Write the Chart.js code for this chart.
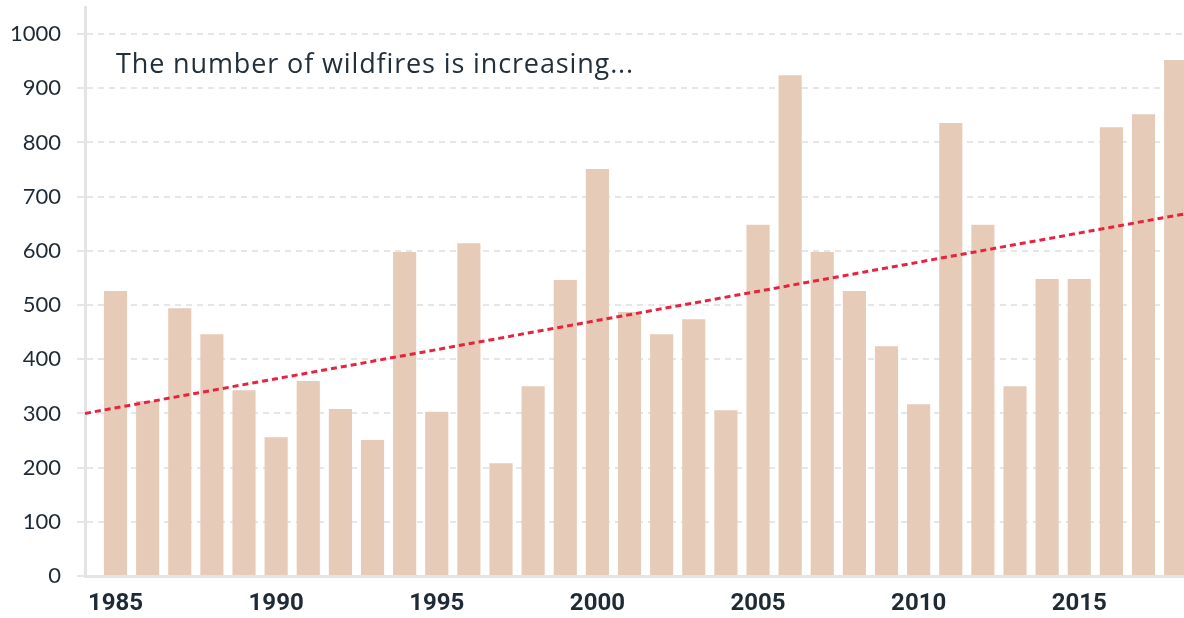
<!DOCTYPE html>
<html>
<head>
<meta charset="utf-8">
<script src="https://cdn.jsdelivr.net/npm/chart.js@4/dist/chart.umd.min.js"></script>
<style>
  html, body { margin: 0; padding: 0; background: #ffffff; }
  #wrap { width: 1184px; height: 618px; }
</style>
</head>
<body>
<div id="wrap"><canvas id="c" width="1184" height="618"></canvas></div>
<script>
const years = [1985,1986,1987,1988,1989,1990,1991,1992,1993,1994,1995,1996,1997,1998,1999,2000,2001,2002,2003,2004,2005,2006,2007,2008,2009,2010,2011,2012,2013,2014,2015,2016,2017,2018];
const fires = [526,323,494,446,343,256,360,308,251,598,303,614,208,350,546,751,487,446,474,306,648,924,598,526,424,317,836,648,350,548,548,828,852,952];
const xTickYears = [1985,1990,1995,2000,2005,2010,2015];
const yTickValues = [0,100,200,300,400,500,600,700,800,900,1000];
const xRange = [1984.05, 2018.26];
const trendValues = [300, 668];
const annotationText = 'The number of wildfires is increasing...';

const barPoints = years.map((y, i) => ({ x: y, y: fires[i] }));
const trendPoints = [{ x: xRange[0], y: trendValues[0] }, { x: xRange[1], y: trendValues[1] }];

const annotationPlugin = {
  id: 'annot',
  afterDatasetsDraw(chart) {
    const { ctx, chartArea } = chart;
    ctx.save();
    ctx.font = '27px "Open Sans"';
    const w = ctx.measureText(annotationText).width;
    const target = 517;
    const extra = Math.max(0, (target - w) / (annotationText.length - 1));
    ctx.letterSpacing = extra.toFixed(2) + 'px';
    ctx.fillStyle = '#22303c';
    ctx.textBaseline = 'alphabetic';
    ctx.textAlign = 'left';
    ctx.fillText(annotationText, chartArea.left + 31, 73);
    ctx.restore();
  }
};

new Chart(document.getElementById('c'), {
  data: {
    datasets: [
      {
        type: 'bar',
        data: barPoints,
        backgroundColor: '#e5cbb8',
        barPercentage: 0.9,
        categoryPercentage: 0.8,
        order: 2
      },
      {
        type: 'line',
        data: trendPoints,
        borderColor: '#e8233f',
        borderWidth: 3,
        borderDash: [6, 4],
        pointRadius: 0,
        tension: 0,
        fill: false,
        order: 1
      }
    ]
  },
  options: {
    responsive: false,
    animation: false,
    layout: { padding: { top: 7, right: 0, bottom: 0, left: 0 } },
    plugins: { legend: { display: false }, tooltip: { enabled: false } },
    scales: {
      x: {
        type: 'linear',
        offset: false,
        min: xRange[0],
        max: xRange[1],
        afterBuildTicks(scale) { scale.ticks = xTickYears.map(v => ({ value: v })); },
        afterFit(scale) { scale.height = 42; scale.paddingLeft = 0; scale.paddingRight = 0; },
        grid: { display: false, drawTicks: false },
        border: { display: true, color: '#e4e4e4', width: 3 },
        ticks: {
          autoSkip: false,
          maxRotation: 0,
          padding: 14,
          color: '#1e2a36',
          font: { family: 'Roboto', size: 24, weight: 'bold' },
          callback: v => String(v)
        }
      },
      y: {
        type: 'linear',
        min: 0,
        max: 1050,
        afterBuildTicks(scale) { scale.ticks = yTickValues.map(v => ({ value: v })); },
        afterFit(scale) { scale.width = 85; scale.paddingTop = 0; scale.paddingBottom = 0; },
        grid: {
          color: '#e6e6e6',
          lineWidth: 2,
          tickLength: 8,
          tickColor: '#e6e6e6',
          tickBorderDash: [],
          drawTicks: true
        },
        border: { display: true, color: '#e4e4e4', width: 3, dash: [6, 5] },
        ticks: {
          padding: 16,
          color: '#1e2a36',
          font: { family: 'Lato', size: 22 },
          callback: v => String(v)
        }
      }
    }
  },
  plugins: [annotationPlugin]
});
</script>
</body>
</html>
